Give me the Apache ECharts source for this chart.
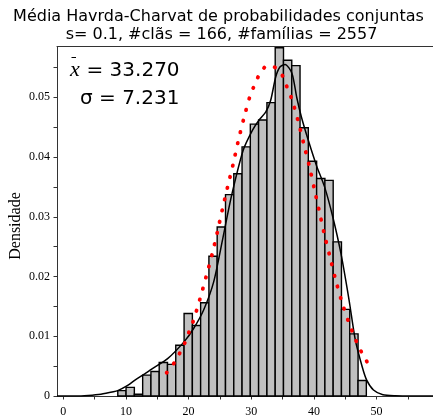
<!DOCTYPE html>
<html><head><meta charset="utf-8">
<script src="https://cdn.jsdelivr.net/npm/echarts@6/dist/echarts.min.js"></script>
<style>html,body{margin:0;padding:0;background:#fff}#c{width:433px;height:419px}</style>
</head><body><div id="c"></div>
<script>
// Histogram bins (left edges) and densities
const binLeft = [8.70, 10.02, 11.34, 12.67, 13.99, 15.31, 16.63, 17.95, 19.28, 20.60,
  21.92, 23.24, 24.56, 25.89, 27.21, 28.53, 29.85, 31.17, 32.50, 33.82,
  35.14, 36.46, 37.78, 39.11, 40.43, 41.75, 43.07, 44.39, 45.72, 47.04];
const binWidth = 1.322;
const density = [0.0009, 0.00145, 0.0003, 0.0035, 0.0041, 0.0056, 0.0053, 0.0085, 0.0138, 0.0118,
  0.0156, 0.0234, 0.0283, 0.0337, 0.0372, 0.0417, 0.0455, 0.0462, 0.0491, 0.0583,
  0.0562, 0.0553, 0.0449, 0.0393, 0.0364, 0.0361, 0.0258, 0.0145, 0.0104, 0.0026];
// Smoothed density curve (black)
const kdeX = [-1, 2, 4, 6, 8, 8.7, 10, 11.5, 13, 14.1, 16.7, 19.3, 20.8, 22.4, 24.0, 25.5, 26.8, 28.7,
  30.2, 31.25, 32.3, 33.1, 33.9, 34.6, 35.4, 36.5, 37.25, 38.0, 39.1, 40.4, 41.7, 43.0, 44.3,
  45.6, 46.6, 47.7, 48.4, 49.5, 51.0, 53, 56, 59];
const kdeY = [0, 0, 0.0001, 0.0003, 0.0007, 0.0009, 0.0016, 0.0027, 0.0037, 0.0045, 0.0063, 0.0091, 0.0113, 0.0144, 0.0191, 0.0266, 0.0333, 0.0411,
  0.0445, 0.0462, 0.0475, 0.0495, 0.0534, 0.0551, 0.0555, 0.0540, 0.0500, 0.0467, 0.0428, 0.0386, 0.0350, 0.0300, 0.0239,
  0.0161, 0.0094, 0.0049, 0.0027, 0.0010, 0.0002, 0.00003, 0, 0];
// Normal curve (red dotted)
const normX = [16.5, 17.6, 18.55, 19.4, 20.06, 20.7, 21.8, 22.8, 23.75, 24.6, 25.4, 26.25, 27.1, 27.9, 28.8,
  29.8, 30.5, 31.3, 32.6, 34.1, 35.2, 35.8, 36.5, 37.5, 38.4, 39.3, 40.1, 40.9, 41.7, 42.6, 43.5,
  44.5, 45.7, 46.4, 47.1, 48.0, 48.9];
const normY = [0.0039, 0.0054, 0.0071, 0.0089, 0.0107, 0.0124, 0.0162, 0.0200, 0.0237, 0.0275, 0.0313, 0.0351, 0.0388, 0.0426, 0.0464,
  0.0502, 0.0520, 0.0538, 0.0553, 0.0548, 0.0532, 0.0514, 0.0496, 0.0459, 0.0421, 0.0383, 0.0345, 0.0307, 0.0269, 0.0231, 0.0193,
  0.0156, 0.0119, 0.0101, 0.0083, 0.0066, 0.0049];
const xLabels = [0, 10, 20, 30, 40, 50];
const xTicks = [0, 5, 10, 15, 20, 25, 30, 35, 40, 45, 50, 55];
const yLabels = [0, 0.01, 0.02, 0.03, 0.04, 0.05];
const yTicks = [0, 0.005, 0.01, 0.015, 0.02, 0.025, 0.03, 0.035, 0.04, 0.045, 0.05, 0.055];
const titleLines = ['Média Havrda-Charvat de probabilidades conjuntas', 's= 0.1, #clãs = 166, #famílias = 2557'];
const meanText = '= 33.270';
const sigmaText = 'σ = 7.231';
const yName = 'Densidade';

const chart = echarts.init(document.getElementById('c'), null, {renderer: 'canvas'});
const axisColor = '#333';
const serif = 'Liberation Serif';
const sans = 'DejaVu Sans';
const X0 = -1, X1 = 59, Y0 = 0, Y1 = 0.0585;

const option = {
  animation: false,
  backgroundColor: '#fff',
  grid: {left: 57, top: 46.5, width: 384, height: 349.5, containLabel: false},
  xAxis: [
    {type: 'value', min: X0, max: X1, position: 'bottom',
      axisLine: {show: true, onZero: false, lineStyle: {color: axisColor, width: 1}},
      axisTick: {show: true, customValues: xTicks, length: 3.5, lineStyle: {color: axisColor}},
      axisLabel: {show: true, customValues: xLabels, fontFamily: serif, fontSize: 12, color: '#000', margin: 10},
      splitLine: {show: false}},
    {type: 'value', min: X0, max: X1, position: 'top',
      axisLine: {show: true, onZero: false, lineStyle: {color: axisColor, width: 1}},
      axisTick: {show: false}, axisLabel: {show: false}, splitLine: {show: false}}
  ],
  yAxis: [
    {type: 'value', min: Y0, max: Y1, position: 'left',
      axisLine: {show: true, onZero: false, lineStyle: {color: axisColor, width: 1}},
      axisTick: {show: true, customValues: yTicks, length: 3.5, lineStyle: {color: axisColor}},
      axisLabel: {show: true, customValues: yLabels, fontFamily: serif, fontSize: 12, color: '#000', margin: 7},
      splitLine: {show: false}}
  ],
  series: [
    {type: 'custom', xAxisIndex: 0, yAxisIndex: 0, z: 2,
      data: binLeft.map((l, i) => [l, l + binWidth, density[i]]),
      encode: {x: [0, 1], y: 2},
      renderItem: function (params, api) {
        const p0 = api.coord([api.value(0), api.value(2)]);
        const p1 = api.coord([api.value(1), 0]);
        return {type: 'rect', shape: {x: p0[0], y: p0[1], width: p1[0] - p0[0], height: p1[1] - p0[1]},
          style: {fill: '#c0c0c0', stroke: '#000', lineWidth: 1.4}};
      }},
    {type: 'line', xAxisIndex: 0, yAxisIndex: 0, z: 3, showSymbol: false, smooth: 0.25,
      data: kdeX.map((x, i) => [x, kdeY[i]]),
      lineStyle: {color: '#000', width: 1.5}},
    {type: 'line', xAxisIndex: 0, yAxisIndex: 0, z: 4, showSymbol: false, smooth: 0.3,
      data: normX.map((x, i) => [x, normY[i]]),
      lineStyle: {color: '#ff0000', width: 3.8, type: [0.5, 11], cap: 'round'}}
  ],
  graphic: [
    {type: 'text', x: 218.5, y: 17, style: {text: titleLines[0], fontFamily: sans, fontSize: 16, fill: '#000', align: 'center', verticalAlign: 'middle'}},
    {type: 'text', x: 221.5, y: 35, style: {text: titleLines[1], fontFamily: sans, fontSize: 16, fill: '#000', align: 'center', verticalAlign: 'middle'}},
    {type: 'text', x: 70, y: 70.5, z: 10, style: {text: 'x', fontFamily: serif, fontStyle: 'italic', fontSize: 22, fill: '#000', align: 'left', verticalAlign: 'middle'}},
    {type: 'line', z: 10, shape: {x1: 71.5, y1: 57.5, x2: 76, y2: 57.5}, style: {stroke: '#000', lineWidth: 1}},
    {type: 'text', x: 86.5, y: 71, z: 10, style: {text: meanText, fontFamily: sans, fontSize: 20, fill: '#000', align: 'left', verticalAlign: 'middle'}},
    {type: 'text', x: 80, y: 99, z: 10, style: {text: sigmaText, fontFamily: sans, fontSize: 20, fill: '#000', align: 'left', verticalAlign: 'middle'}},
    {type: 'text', x: 15.5, y: 226, rotation: Math.PI / 2, style: {text: yName, fontFamily: serif, fontSize: 16, fill: '#000', align: 'center', verticalAlign: 'middle'}}
  ]
};
chart.setOption(option);
</script>
</body></html>
